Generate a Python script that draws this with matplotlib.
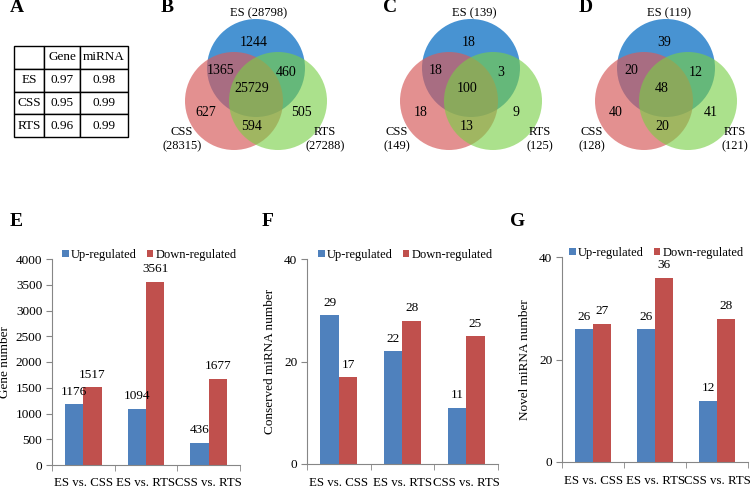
import matplotlib
matplotlib.use("Agg")
import matplotlib.pyplot as plt
from matplotlib.patches import Circle
import numpy as np

plt.rcParams['font.family'] = ['Liberation Serif', 'DejaVu Serif']

# ---------------- data ----------------
tbl_rows = ["ES", "CSS", "RTS"]
tbl_cols = ["Gene", "miRNA"]
tbl_gene = ["0.97", "0.95", "0.96"]
tbl_mirna = ["0.98", "0.99", "0.99"]

venn_sets = ["ES", "CSS", "RTS"]
# region order: ES only, ES&CSS, ES&RTS, all, CSS only, RTS only, CSS&RTS
venn_B_regions = [1244, 1365, 460, 25729, 627, 505, 594]
venn_B_totals = [28798, 28315, 27288]
venn_C_regions = [18, 18, 3, 100, 18, 9, 13]
venn_C_totals = [139, 149, 125]
venn_D_regions = [39, 20, 12, 48, 40, 41, 20]
venn_D_totals = [119, 128, 121]

comparisons = ["ES vs. CSS", "ES vs. RTS", "CSS vs. RTS"]
series = ["Up-regulated", "Down-regulated"]
gene_up = [1176, 1094, 436]
gene_down = [1517, 3561, 1677]
cons_up = [29, 22, 11]
cons_down = [17, 28, 25]
novel_up = [26, 26, 12]
novel_down = [27, 36, 28]

W, H = 750, 488
fig = plt.figure(figsize=(W / 100, H / 100), dpi=100)

def fbox(x0, y0, x1, y1):
    return [x0 / W, 1 - y1 / H, (x1 - x0) / W, (y1 - y0) / H]

# overlay axes in pixel coords for letters and venns
ov = fig.add_axes([0, 0, 1, 1])
ov.set_xlim(0, W)
ov.set_ylim(H, 0)
ov.axis('off')

for lab, x, y in [("A", 17, 8), ("B", 167, 8), ("C", 390, 8), ("D", 586, 8),
                  ("E", 16, 221), ("F", 268, 221), ("G", 518, 221)]:
    ov.text(x, y, lab, fontsize=14, fontweight='bold', ha='center', va='center')

# ---------------- table A ----------------
tax = fig.add_axes(fbox(14, 46, 128, 137))
tax.axis('off')
cell_text = [[""] + tbl_cols] + [[r, g, m] for r, g, m in zip(tbl_rows, tbl_gene, tbl_mirna)]
t = tax.table(cellText=cell_text, bbox=[0, 0, 1, 1], cellLoc='center',
              colWidths=[30, 36, 48])
t.auto_set_font_size(False)
for (r, c), cell in t.get_celld().items():
    cell.set_fontsize(9.5)
    cell.set_linewidth(1.0)
    if c == 0:
        cell._loc = 'left'
        cell.PAD = 0.05

# ---------------- venns ----------------
col_es = (0.22, 0.54, 0.81)
col_css = (0.84, 0.36, 0.36)
col_rts = (0.47, 0.81, 0.27)

def venn(cx, regions, totals):
    r = 49
    centers = [(cx, 68), (cx - 22, 101), (cx + 22, 101)]
    ov.add_patch(Circle(centers[0], r, facecolor=col_es, alpha=0.92, edgecolor='none'))
    ov.add_patch(Circle(centers[1], r, facecolor=col_css, alpha=0.68, edgecolor='none'))
    ov.add_patch(Circle(centers[2], r, facecolor=col_rts, alpha=0.62, edgecolor='none'))
    offs = [(-2, 42), (-35, 70), (30, 72), (-4, 89), (-50, 113), (45, 112), (-4, 127)]
    for v, (dx, y) in zip(regions, offs):
        ov.text(cx + dx, y, str(v), fontsize=10, ha='center', va='center')
    ov.text(cx + 3, 13, f"{venn_sets[0]} ({totals[0]})", fontsize=9, ha='center', va='center')
    ov.text(cx - 74, 139, f"{venn_sets[1]}\n({totals[1]})", fontsize=9,
            ha='center', va='center', linespacing=1.2)
    ov.text(cx + 69, 139, f"{venn_sets[2]}\n({totals[2]})", fontsize=9,
            ha='center', va='center', linespacing=1.2)

venn(256, venn_B_regions, venn_B_totals)
venn(471, venn_C_regions, venn_C_totals)
venn(666, venn_D_regions, venn_D_totals)

# ---------------- bar charts ----------------
blue = '#4F81BD'
red = '#C0504D'
spine_c = '#868686'

def bars(box, up, down, ymax, step, ylabel, legend_x, labelpad):
    ax = fig.add_axes(fbox(*box))
    x = np.arange(len(comparisons))
    w = 0.29
    ax.bar(x - w / 2, up, w, color=blue, label=series[0])
    ax.bar(x + w / 2, down, w, color=red, label=series[1])
    for xi, v in zip(x - w / 2, up):
        ax.annotate(str(v), (xi, v), xytext=(0, 4.5), textcoords='offset points',
                    ha='center', va='bottom', fontsize=9.5)
    for xi, v in zip(x + w / 2, down):
        ax.annotate(str(v), (xi, v), xytext=(0, 4.5), textcoords='offset points',
                    ha='center', va='bottom', fontsize=9.5)
    ax.set_xlim(-0.5, len(comparisons) - 0.5)
    ax.set_ylim(0, ymax)
    ax.set_yticks(np.arange(0, ymax + 1, step))
    ax.set_xticks(x)
    ax.set_xticklabels(comparisons, fontsize=9.3)
    ax.set_xticks(np.arange(-0.5, len(comparisons), 1), minor=True)
    ax.tick_params(axis='x', which='major', length=0, pad=9)
    ax.tick_params(axis='x', which='minor', length=4, color=spine_c)
    ax.tick_params(axis='y', length=4, color=spine_c, labelsize=9.5, pad=3)
    for s in ['top', 'right']:
        ax.spines[s].set_visible(False)
    for s in ['left', 'bottom']:
        ax.spines[s].set_color(spine_c)
    ax.set_ylabel(ylabel, fontsize=9.5, labelpad=labelpad)
    ax.legend(loc='lower left', bbox_to_anchor=(legend_x, 0.99), ncol=2, frameon=False,
              fontsize=9, handlelength=0.5, handleheight=0.5, handletextpad=0.2,
              columnspacing=0.8, borderaxespad=0, borderpad=0)
    return ax

bars((52, 259, 240, 465), gene_up, gene_down, 4000, 500, "Gene number", 0.055, 3)
bars((307, 259, 498, 464), cons_up, cons_down, 40, 20, "Conserved miRNA number", 0.06, 6)
bars((562, 257, 748, 462), novel_up, novel_down, 40, 20, "Novel miRNA number", 0.04, 6)

fig.savefig("out.png", dpi=100)
